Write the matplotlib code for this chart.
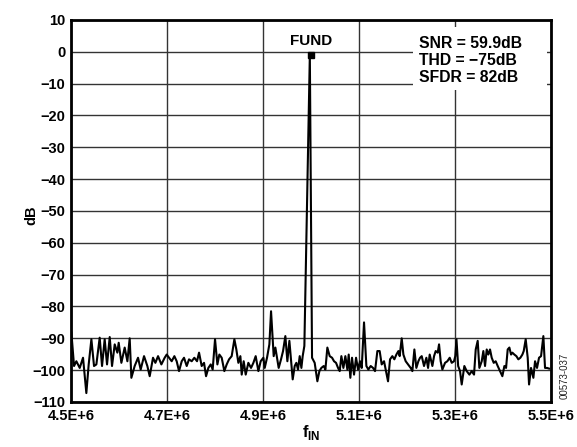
"""FFT plot of a single-tone input: fundamental at 5 MHz over a noise floor."""

import matplotlib

matplotlib.use("Agg")

import matplotlib.pyplot as plt  # noqa: E402
from matplotlib.patches import Rectangle  # noqa: E402

plt.rcParams["font.family"] = ["Liberation Sans", "DejaVu Sans"]
plt.rcParams["font.weight"] = "bold"
plt.rcParams["mathtext.fontset"] = "custom"
plt.rcParams["mathtext.bf"] = "Liberation Sans:bold"
plt.rcParams["mathtext.rm"] = "Liberation Sans:bold"

# frequency offsets from 4.5 MHz, in kHz, and the spectrum level in dB
freq_offset_khz = [
    0.7, 6.3, 11.1, 18.1, 25.0, 31.9, 36.8, 42.4, 47.9, 52.8,
    59.7, 64.6, 70.1, 75.0, 80.6, 85.4, 91.0, 96.5, 99.3, 104.9,
    111.8, 117.4, 122.2, 125.7, 132.6, 139.6, 145.1, 152.1, 159.0, 163.9,
    170.8, 175.7, 181.3, 188.2, 195.1, 199.3, 204.2, 209.7, 215.3, 220.1,
    225.0, 230.6, 235.4, 241.0, 245.8, 251.4, 256.9, 262.5, 266.7, 272.2,
    277.1, 281.3, 286.1, 291.0, 295.1, 300.0, 304.9, 309.0, 313.9, 319.4,
    324.3, 329.2, 334.7, 340.3, 344.4, 348.6, 352.8, 355.6, 359.7, 363.9,
    369.4, 375.0, 379.9, 384.7, 390.3, 395.1, 400.7, 403.5, 408.3, 413.2,
    416.7, 422.2, 425.7, 429.2, 432.6, 437.5, 441.7, 446.5, 450.7, 454.9,
    459.0, 461.8, 466.0, 469.4, 472.9, 476.4, 479.9, 482.6, 486.1, 497.5,
    502.1, 507.6, 513.2, 517.4, 521.5, 526.4, 529.9, 534.0, 538.9, 543.8,
    547.9, 552.1, 556.3, 559.7, 563.2, 567.4, 571.5, 575.7, 578.5, 581.9,
    585.4, 589.6, 593.8, 597.9, 602.1, 605.6, 610.4, 615.3, 619.4, 624.3,
    629.2, 633.3, 638.2, 643.0, 647.2, 652.1, 655.6, 660.4, 664.6, 669.4,
    673.6, 677.8, 682.0, 684.7, 688.9, 692.4, 697.2, 702.1, 707.6, 711.1,
    715.3, 719.4, 723.6, 727.1, 730.6, 735.4, 740.3, 743.8, 747.2, 752.8,
    756.3, 759.7, 763.9, 766.7, 770.1, 773.6, 779.2, 784.0, 788.9, 793.1,
    797.9, 800.5, 803.0, 806.5, 810.4, 813.9, 819.4, 824.3, 829.9, 834.7,
    839.6, 843.1, 847.2, 850.7, 855.6, 859.0, 862.5, 866.0, 869.4, 872.9,
    876.4, 880.6, 884.7, 888.9, 893.8, 898.6, 902.8, 906.3, 909.7, 913.2,
    916.7, 919.4, 923.6, 927.8, 931.9, 936.1, 940.3, 943.1, 947.2, 951.4,
    954.2, 958.3, 963.2, 966.7, 970.8, 975.0, 979.2, 984.0, 987.5, 991.7,
    995.8,
]
level_db = [
    -88.2, -98.7, -97.2, -99.3, -96.1, -107.2, -98.2, -90.3, -98.7, -98.2,
    -89.8, -98.7, -90.3, -98.2, -89.6, -98.7, -91.9, -94.5, -91.4, -97.7,
    -92.9, -97.2, -90.0, -102.4, -98.7, -96.1, -99.8, -95.6, -98.7, -101.9,
    -96.1, -97.7, -95.6, -98.2, -96.1, -95.1, -96.1, -97.2, -95.6, -97.2,
    -100.3, -97.2, -96.1, -98.7, -96.6, -97.2, -96.1, -97.2, -94.5, -98.7,
    -97.7, -101.9, -99.3, -98.2, -99.8, -90.3, -98.2, -95.1, -96.1, -100.3,
    -98.2, -96.6, -95.6, -90.3, -93.5, -97.7, -95.6, -101.4, -97.2, -101.4,
    -97.7, -99.3, -97.7, -95.6, -100.3, -97.2, -96.1, -99.3, -96.1, -91.9,
    -81.5, -95.6, -92.9, -96.1, -99.3, -96.6, -94.0, -89.3, -97.2, -90.8,
    -98.2, -102.9, -98.7, -97.7, -99.8, -95.6, -99.3, -95.6, -92.4, -1.0,
    -96.1, -97.7, -103.5, -100.3, -99.3, -98.7, -99.8, -92.9, -95.6, -96.1,
    -97.2, -97.7, -99.3, -100.3, -95.6, -99.3, -95.6, -99.8, -95.1, -102.4,
    -96.1, -101.4, -96.1, -99.8, -97.2, -99.3, -85.0, -98.7, -99.8, -98.7,
    -99.3, -100.3, -94.0, -94.0, -98.2, -97.2, -99.8, -103.5, -96.6, -95.6,
    -96.6, -95.1, -94.0, -95.6, -90.0, -95.1, -97.2, -98.2, -99.3, -100.3,
    -93.5, -99.3, -97.2, -96.1, -95.6, -98.7, -96.1, -99.3, -95.1, -98.7,
    -95.6, -94.0, -94.5, -91.9, -97.2, -99.8, -97.7, -97.2, -96.1, -97.7,
    -97.2, -95.6, -90.3, -98.7, -100.3, -104.5, -98.7, -100.3, -101.4, -100.3,
    -101.4, -93.5, -90.8, -99.3, -97.2, -94.0, -98.7, -93.5, -95.1, -93.5,
    -96.1, -97.7, -97.2, -98.7, -100.3, -101.9, -98.7, -99.3, -93.5, -92.9,
    -95.1, -94.5, -95.1, -95.6, -96.6, -96.1, -95.1, -94.0, -90.3, -96.1,
    -104.5, -99.3, -102.4, -97.2, -99.3, -96.1, -95.6, -89.3, -99.3, -99.3,
    -99.5,
]
start_freq_hz = 4.5e6
fund_freq_hz = 5.0e6
fund_level_db = -1.0

x_ticks = [4.5e6, 4.7e6, 4.9e6, 5.1e6, 5.3e6, 5.5e6]
x_tick_labels = ["4.5E+6", "4.7E+6", "4.9E+6", "5.1E+6", "5.3E+6", "5.5E+6"]
y_ticks = list(range(-110, 11, 10))
stats_text = "SNR = 59.9dB\nTHD = \u221275dB\nSFDR = 82dB"

freq_hz = [start_freq_hz + khz * 1e3 for khz in freq_offset_khz]

figure = plt.figure(figsize=(5.77, 4.47), dpi=100)
axis = figure.add_axes([0.1231, 0.1007, 0.8319, 0.8546])

axis.plot(freq_hz, level_db, color="black", linewidth=1.5, zorder=3)
axis.plot([fund_freq_hz], [fund_level_db], marker="s", color="black",
          markersize=5, zorder=4)

axis.set_xlim(4.5e6, 5.5e6)
axis.set_ylim(-110, 10)
axis.set_xticks(x_ticks)
axis.set_xticklabels(x_tick_labels)
axis.set_yticks(y_ticks)
axis.tick_params(axis="y", length=0, labelsize=10.5, pad=4)
axis.tick_params(axis="x", length=0, labelsize=10.5, pad=5)
for label in axis.get_xticklabels() + axis.get_yticklabels():
    label.set_fontweight("bold")
axis.grid(True, color="#333333", linewidth=1.0, zorder=1)
axis.set_axisbelow(True)
for spine in axis.spines.values():
    spine.set_linewidth(2.0)

axis.set_ylabel("dB", fontsize=10.5, fontweight="bold", va="center")
axis.yaxis.set_label_coords(-0.083, 0.49)
axis.set_xlabel(r"$\mathbf{f}_{\mathbf{IN}}$", fontsize=12, va="top")
axis.xaxis.set_label_coords(0.5, -0.055)

axis.text(fund_freq_hz, 3.5, "FUND", ha="center", va="center",
          fontsize=11, fontweight="bold", zorder=5)
# white panel behind the stats block, hiding the grid there
axis.add_patch(Rectangle((0.7125, 0.817), 0.2795, 0.165,
                         transform=axis.transAxes, facecolor="white",
                         edgecolor="none", zorder=2))
axis.text(5.225e6, -2.8, stats_text, ha="left", va="center", fontsize=11.3,
          fontweight="bold", linespacing=1.15, zorder=5)

figure.text(0.979, 0.16, "00573-037", rotation=90, ha="center", va="center",
            fontsize=7, fontweight="normal", color="#222222")

figure.savefig("out.png", dpi=100)
plt.close(figure)
